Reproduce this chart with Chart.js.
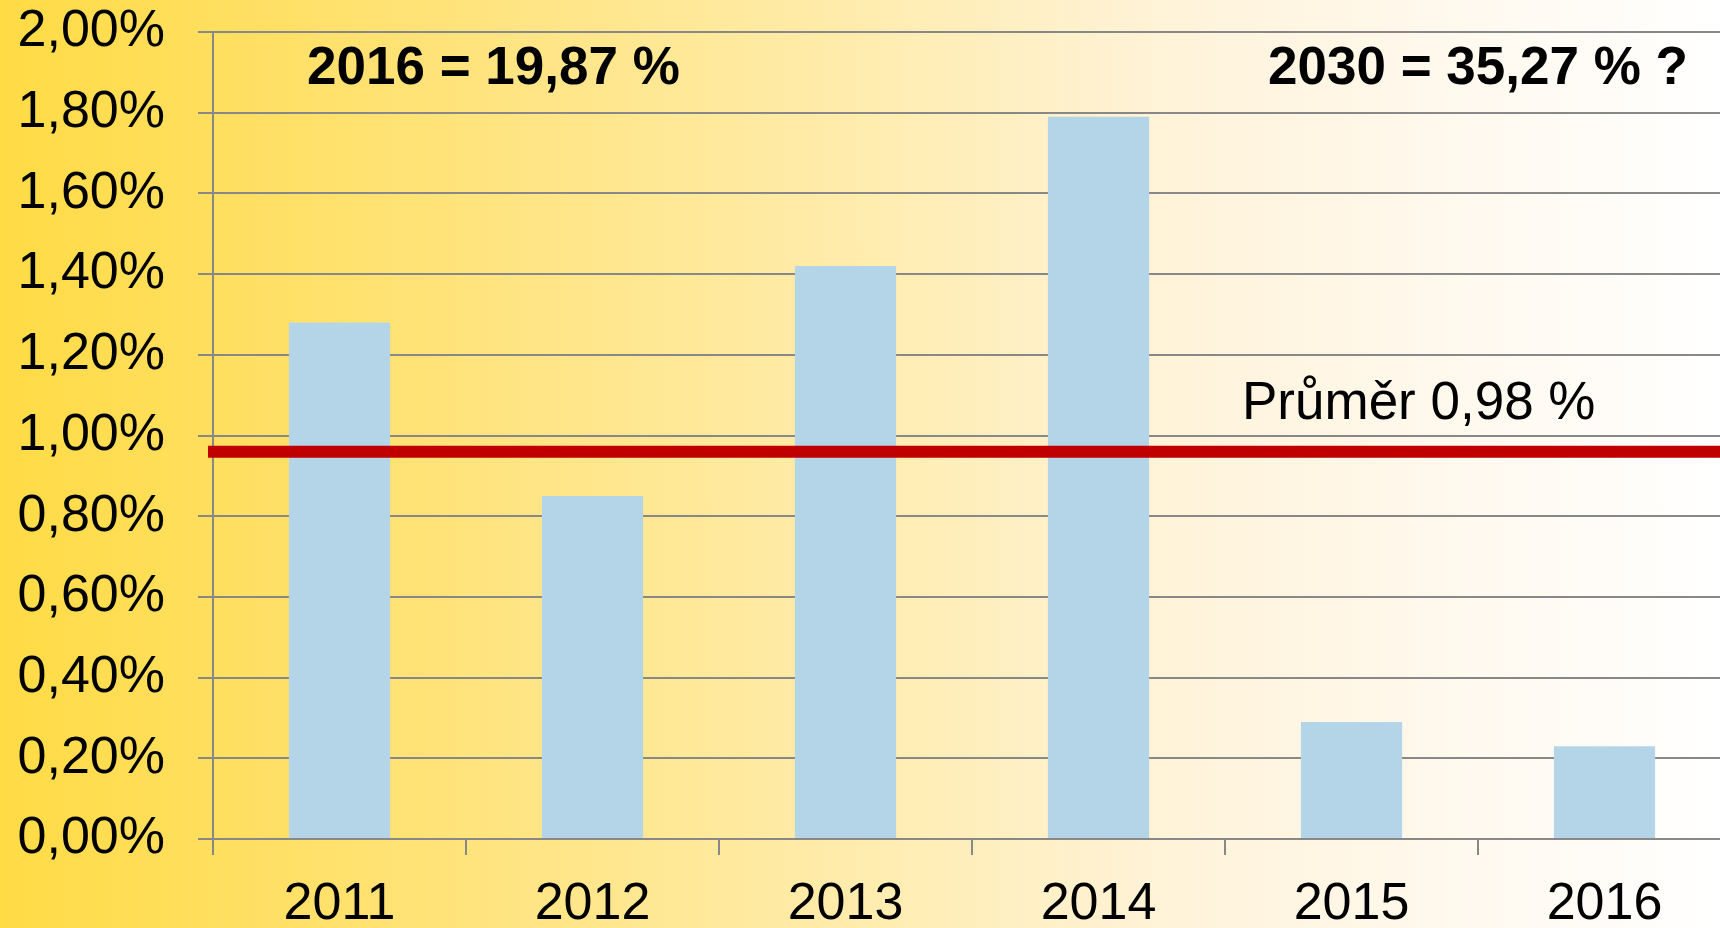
<!DOCTYPE html>
<html>
<head>
<meta charset="utf-8">
<script src="https://cdn.jsdelivr.net/npm/chart.js@4/dist/chart.umd.min.js"></script>
<style>
  html, body { margin: 0; padding: 0; width: 1720px; height: 928px; overflow: hidden; }
  body {
    background: linear-gradient(to right, #FFDB45 0%, #FFE37A 26%, #FFEDB2 52%, #FFF3D9 68%, #FFF8EC 83%, #FFFFFF 100%);
    position: relative;
  }
  #wrap { position: absolute; left: 0; top: 0; width: 1731px; height: 928px; }
  canvas { display: block; }
</style>
</head>
<body>
<div id="wrap"><canvas id="c" width="1731" height="928"></canvas></div>
<script>
// ---- data ----
const years = ['2011', '2012', '2013', '2014', '2015', '2016'];
const growthPct = [1.28, 0.85, 1.42, 1.79, 0.29, 0.23];
const averageLine = 0.96;          // drawn position of the average line
const averageLabel = 'Průměr 0,98 %';
const noteLeft = '2016 = 19,87 %';
const noteRight = '2030 = 35,27 % ?';
const yMin = 0, yMax = 2, yStep = 0.2;

const FONT = "'Liberation Sans', Arial, sans-serif";
const GRID = '#888888';

const overlay = {
  id: 'overlay',
  afterDatasetsDraw(chart) {
    const ctx = chart.ctx;
    const y = chart.scales.y.getPixelForValue(averageLine);
    const a = chart.chartArea;
    ctx.save();
    ctx.strokeStyle = '#C00000';
    ctx.lineWidth = 12;
    ctx.beginPath();
    ctx.moveTo(a.left - 5, y);
    ctx.lineTo(chart.width, y);
    ctx.stroke();

    ctx.fillStyle = '#000';
    ctx.textAlign = 'left';
    ctx.textBaseline = 'alphabetic';
    ctx.font = 'bold 53px ' + FONT;
    ctx.fillText(noteLeft, 307, 84);
    ctx.fillText(noteRight, 1268, 84);
    ctx.font = '53px ' + FONT;
    ctx.fillText(averageLabel, 1242, 419);
    ctx.restore();
  }
};

new Chart(document.getElementById('c'), {
  type: 'bar',
  data: {
    labels: years,
    datasets: [{
      data: growthPct,
      backgroundColor: '#B4D5E8',
      borderWidth: 0,
      barPercentage: 0.4,
      categoryPercentage: 1.0
    }]
  },
  options: {
    responsive: false,
    animation: false,
    devicePixelRatio: 1,
    layout: { padding: { top: 32, right: 0, left: 0, bottom: 0 } },
    plugins: { legend: { display: false }, tooltip: { enabled: false }, title: { display: false } },
    scales: {
      x: {
        offset: true,
        grid: { display: true, offset: true, drawOnChartArea: false, drawTicks: true, tickLength: 16, color: GRID, lineWidth: 2 },
        border: { display: true, color: GRID, width: 2 },
        ticks: { color: '#000', font: { family: FONT, size: 52 }, padding: 18, maxRotation: 0 },
        afterFit(s) { s.height = 89; }
      },
      y: {
        min: yMin, max: yMax,
        ticks: {
          stepSize: yStep,
          color: '#000',
          font: { family: FONT, size: 52 },
          padding: 33,
          callback: v => v.toFixed(2).replace('.', ',') + '%'
        },
        grid: { color: GRID, lineWidth: 2, tickLength: 15, drawTicks: true },
        border: { display: true, color: GRID, width: 2 },
        afterFit(s) { s.width = 213; s.paddingTop = 0; s.paddingBottom = 0; }
      }
    }
  },
  plugins: [overlay]
});
</script>
</body>
</html>
